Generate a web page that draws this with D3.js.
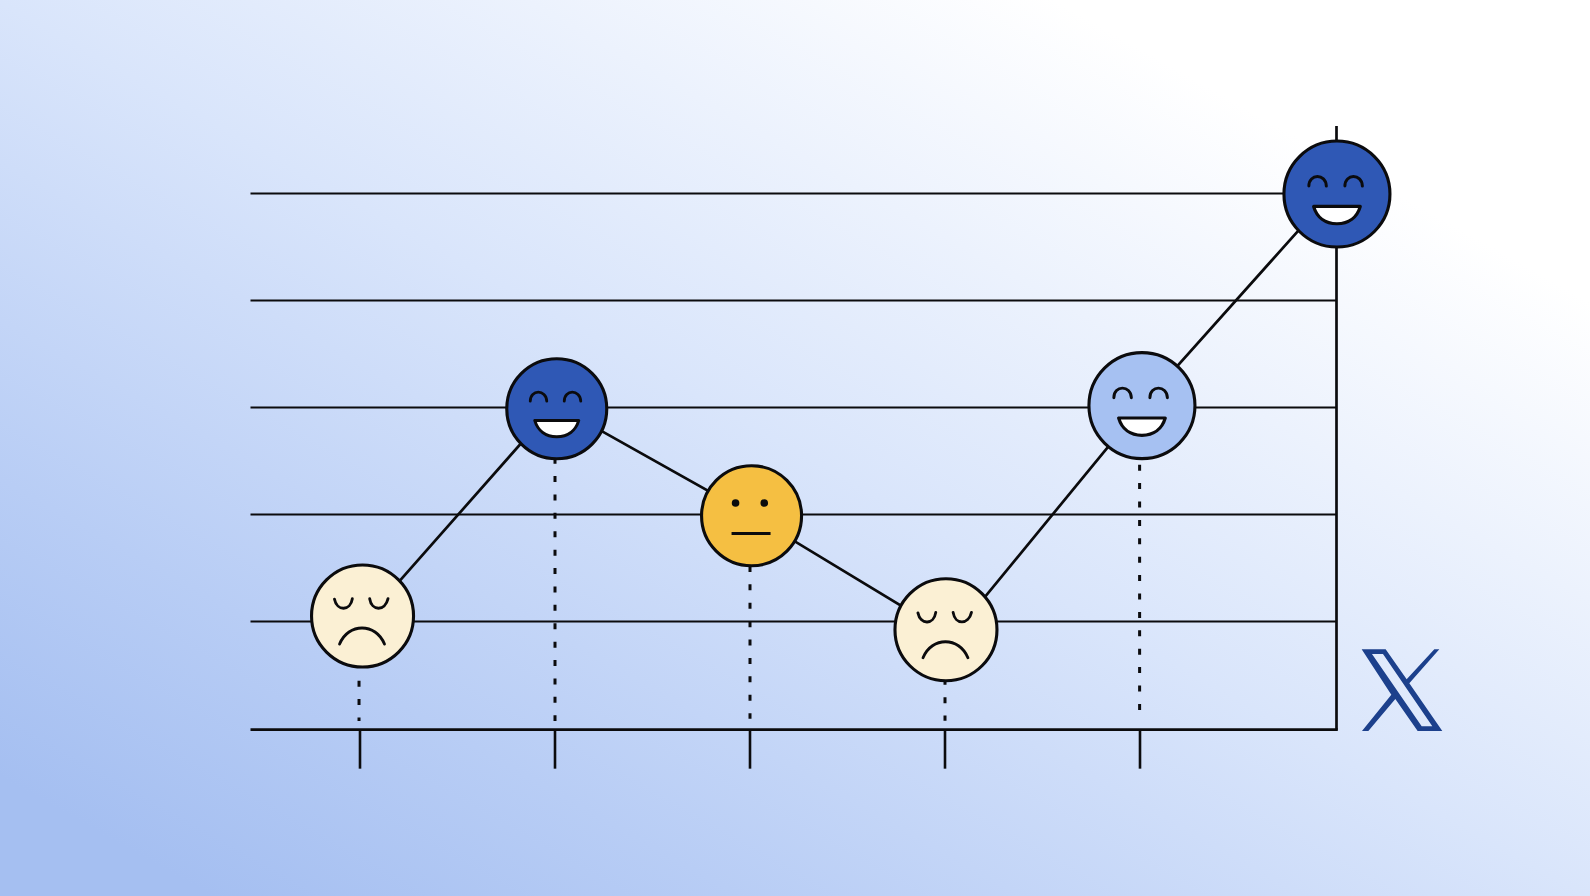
<!DOCTYPE html>
<html>
<head>
<meta charset="utf-8">
<script src="https://cdn.jsdelivr.net/npm/d3@7"></script>
<style>
  html, body { margin: 0; padding: 0; background: #fff; }
  svg { display: block; }
</style>
</head>
<body>
<div id="chart"></div>
<script>
// values
var moods = ["sad", "great", "neutral", "sad", "good", "great"];
var xValues = [0.013, 1.009, 2.008, 3.005, 4.01, 5.01];
var yValues = [1.052, 2.989, 1.989, 0.924, 3.018, 4.995];
// the drawn line doesn't run exactly through the face centres
var lineX = [0.01, 1.0, 2.007, 3.037, 4.01, 5.0];
var lineY = [0.981, 3.025, 1.995, 0.858, 3.018, 5.036];
var stemTops = [0.448, 2.532, 1.52, 0.466, 2.466];
var stemBottoms = [0.071, 0.071, 0.093, 0.074, 0.174];
var stemX = [-0.005, 0, 0, 0, -0.002];
var gridValues = [1, 2, 3, 4, 5];
var tickValues = [0, 1, 2, 3, 4];
var baseValue = -0.01;

var moodFill = {great: "#2f58b5", good: "#a6c1f2", neutral: "#f5bf42", sad: "#fbf0d4"};
var faceRadius = [51, 50, 50, 51, 53, 53];

var width = 1590, height = 896;
var ink = "#0b0b0d";

var x = d3.scaleLinear().domain([0, 5]).range([360, 1335]);
var y = d3.scaleLinear().domain([0, 5]).range([728.6, 193.5]);
var left = 250.5, right = 1336.5;

var svg = d3.select("#chart").append("svg")
    .attr("width", width)
    .attr("height", height);

// background
var grad = svg.append("defs").append("linearGradient")
    .attr("id", "bg")
    .attr("gradientUnits", "userSpaceOnUse")
    .attr("x1", 0).attr("y1", 896)
    .attr("x2", 637).attr("y2", -235);

[[0.08, "#a5bff1"], [0.28, "#b8cdf5"], [0.6, "#d9e5fb"], [1, "#ffffff"]].forEach(function(s) {
  grad.append("stop").attr("offset", s[0]).attr("stop-color", s[1]);
});

svg.append("rect")
    .attr("width", width)
    .attr("height", height)
    .attr("fill", "url(#bg)");

// horizontal grid
var grid = svg.append("g")
    .attr("class", "grid")
    .attr("transform", "translate(" + right + ",0)")
    .call(d3.axisLeft(y).tickValues(gridValues).tickSize(right - left).tickFormat("").offset(0));
grid.select(".domain").remove();
grid.selectAll("line").attr("stroke", ink).attr("stroke-width", 2);

// x axis with the ticks under it
var xAxis = svg.append("g")
    .attr("class", "axis axis--x")
    .attr("transform", "translate(0," + y(baseValue) + ")")
    .call(d3.axisBottom(x).tickValues(tickValues).tickSize(39).tickFormat("").offset(0));
xAxis.select(".domain").remove();
xAxis.selectAll("line").attr("stroke", ink).attr("stroke-width", 2.6);

svg.append("line")
    .attr("x1", left).attr("x2", right + 1.3)
    .attr("y1", y(baseValue)).attr("y2", y(baseValue))
    .attr("stroke", ink).attr("stroke-width", 2.7);

// right hand axis
svg.append("line")
    .attr("x1", right).attr("x2", right)
    .attr("y1", 126).attr("y2", y(baseValue))
    .attr("stroke", ink).attr("stroke-width", 2.7);

// dotted stems
svg.selectAll(".stem")
    .data(stemTops)
  .enter().append("line")
    .attr("class", "stem")
    .attr("x1", function(d, i) { return x(i + stemX[i]); })
    .attr("x2", function(d, i) { return x(i + stemX[i]); })
    .attr("y1", function(d) { return y(d); })
    .attr("y2", function(d, i) { return y(stemBottoms[i]); })
    .attr("stroke", ink)
    .attr("stroke-width", 3)
    .attr("stroke-dasharray", "6 12.4");

// line through the faces
var line = d3.line()
    .x(function(d) { return x(d[0]); })
    .y(function(d) { return y(d[1]); });

svg.append("path")
    .attr("d", line(d3.zip(lineX, lineY)))
    .attr("fill", "none")
    .attr("stroke", ink)
    .attr("stroke-width", 2.7);

// faces, feature paths are drawn for a radius of 50 and scaled
var faces = svg.selectAll(".face")
    .data(moods)
  .enter().append("g")
    .attr("class", "face")
    .attr("transform", function(d, i) {
      return "translate(" + x(xValues[i]) + "," + y(yValues[i]) + ")";
    });

faces.append("circle")
    .attr("r", function(d, i) { return faceRadius[i]; })
    .attr("fill", function(d) { return moodFill[d]; })
    .attr("stroke", ink)
    .attr("stroke-width", 3.1);

var features = faces.append("g")
    .attr("transform", function(d, i) { return "scale(" + faceRadius[i] / 50 + ")"; })
    .attr("fill", "none")
    .attr("stroke", ink)
    .attr("stroke-width", 2.8);

var happy = features.filter(function(d) { return d == "great" || d == "good"; });
happy.append("path")
    .attr("stroke-linecap", "round")
    .attr("d", "M-26.5,-7.5C-26.5,-19.5 -10.5,-19.5 -10,-7.5M7.5,-7.5C7.5,-19.5 23.5,-19.5 24,-7.5");
happy.append("path")
    .attr("fill", "#fff")
    .attr("stroke-width", 3)
    .attr("stroke-linejoin", "round")
    .attr("d", "M-22,11.7L22,11.7C19,22 11,28 0,28C-11,28 -19,22 -22,11.7Z");

var sad = features.filter(function(d) { return d == "sad"; });
sad.append("path")
    .attr("stroke-linecap", "round")
    .attr("d", "M-27.5,-16.5C-25,-4.5 -12,-4.5 -10,-17M7,-17C9,-4.5 22,-4.5 25,-17");
sad.append("path")
    .attr("stroke-linecap", "round")
    .attr("d", "M-22.5,27.5C-14,6.5 13,6.5 21.5,27.5");

var neutral = features.filter(function(d) { return d == "neutral"; });
neutral.append("path")
    .attr("stroke-width", 3)
    .attr("d", "M-20,17.7L19,17.7");
neutral.selectAll("circle")
    .data([-16, 12.7])
  .enter().append("circle")
    .attr("cx", function(d) { return d; })
    .attr("cy", -12.7)
    .attr("r", 3.8)
    .attr("fill", ink)
    .attr("stroke", "none");

// X logo
svg.append("path")
    .attr("transform", "translate(1320,630) scale(0.3333)")
    .attr("fill", "#1c408c")
    .attr("fill-rule", "evenodd")
    .attr("d", "M125,58L197,58L260,148L343,58L358,58L268,160L367,303L293,303L226,207L145,303L126,303L214,194Z"
             + "M156,72L189,72L337,289L305,289Z");
</script>
</body>
</html>
